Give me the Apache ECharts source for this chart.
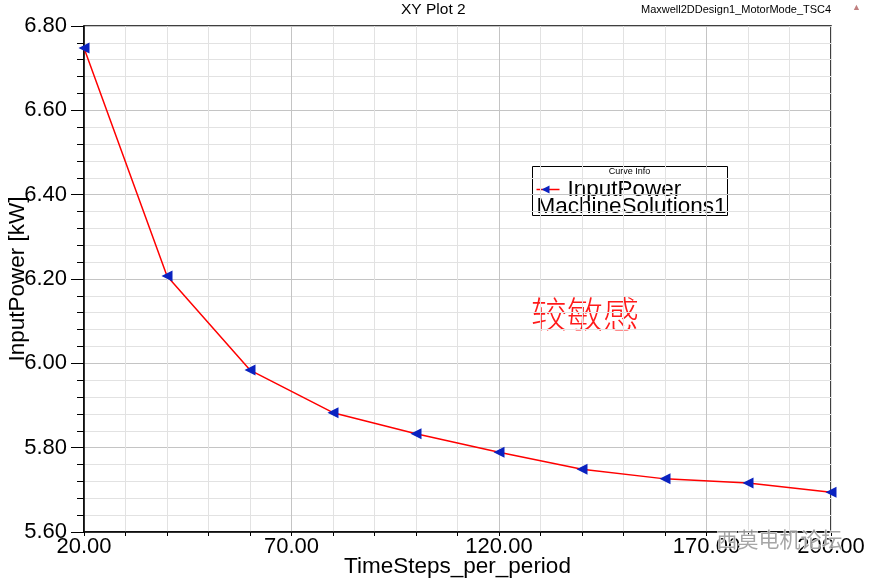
<!DOCTYPE html>
<html><head><meta charset="utf-8">
<script src="https://cdn.jsdelivr.net/npm/echarts@6/dist/echarts.min.js"></script>
<style>html,body{margin:0;padding:0;background:#fff}#c{width:870px;height:582px}</style>
</head><body><div id="c"></div>
<script>
const timeSteps = [20, 40, 60, 80, 100, 120, 140, 160, 180, 200];
const inputPower = [6.748, 6.207, 5.984, 5.883, 5.833, 5.789, 5.749, 5.726, 5.716, 5.694];
const xMajorLabels = [20, 70, 120, 170, 200];
const seriesName = 'InputPower';
const legendSub = 'MachineSolutions1';
const titleText = 'XY Plot 2';
const designText = 'Maxwell2DDesign1_MotorMode_TSC4';
const noteText = '较敏感';
const watermark = '西莫电机论坛';

const chart = echarts.init(document.getElementById('c'), null, {renderer: 'canvas'});
const F = 'Liberation Sans, Arial, sans-serif';
const major = '#c4c4c4', minor = '#e2e2e2';

chart.setOption({
  animation: false,
  backgroundColor: '#fff',
  grid: {left: 84, right: 39, top: 26, bottom: 50, show: true, borderColor: '#000', borderWidth: 1.5,
         containLabel: false, outerBoundsMode: 'none'},
  xAxis: {
    type: 'value', min: 20, max: 200, interval: 10,
    name: 'TimeSteps_per_period', nameLocation: 'middle', nameGap: 23, nameMoveOverlap: false,
    nameTextStyle: {fontFamily: F, fontSize: 22.5, color: '#000'},
    axisLine: {show: true, lineStyle: {color: '#000', width: 1.5}},
    axisTick: {show: true, length: 4, lineStyle: {color: '#000'}},
    axisLabel: {
      fontFamily: F, fontSize: 22, color: '#000', margin: 4, showMaxLabel: true, showMinLabel: true,
      formatter: v => xMajorLabels.includes(Math.round(v)) ? v.toFixed(2) : ''
    },
    splitLine: {show: true, lineStyle: {color: [major, minor, minor, minor, minor], width: 1}}
  },
  yAxis: {
    type: 'value', min: 5.6, max: 6.8, interval: 0.2,
    name: 'InputPower [kW]', nameLocation: 'middle', nameGap: 55, nameMoveOverlap: false,
    nameTextStyle: {fontFamily: F, fontSize: 22.5, color: '#000'},
    axisLine: {show: true, lineStyle: {color: '#000', width: 1.5}},
    axisTick: {show: true, length: 13, lineStyle: {color: '#000'}},
    minorTick: {show: true, splitNumber: 5, length: 7, lineStyle: {color: '#000'}},
    axisLabel: {fontFamily: F, fontSize: 22, color: '#000', margin: 17, formatter: v => v.toFixed(2)},
    splitLine: {show: true, lineStyle: {color: major, width: 1}},
    minorSplitLine: {show: true, lineStyle: {color: minor, width: 1}}
  },
  series: [{
    name: seriesName, type: 'line',
    data: timeSteps.map((x, i) => [x, inputPower[i]]),
    lineStyle: {color: '#ff0000', width: 1.5},
    itemStyle: {color: '#0a22c0'},
    symbol: 'triangle', symbolSize: [11, 11], symbolRotate: 90, showAllSymbol: true,
    clip: true, z: 5
  }],
  graphic: [
    {type: 'text', left: 401, top: 2, style: {text: titleText, font: '15.5px ' + F, fill: '#000'}},
    {type: 'text', left: 641, top: 4, style: {text: designText, font: '11px ' + F, fill: '#000'}},
    {type: 'text', left: 852, top: 3, style: {text: '▲', font: '9px ' + F, fill: '#c08080'}},
    {type: 'group', left: 530, top: 166, children: [
      {type: 'rect', shape: {x: 0, y: 0, width: 195, height: 49}, style: {fill: '#fff', stroke: '#000', lineWidth: 1}},
      {type: 'line', shape: {x1: 0, y1: 12, x2: 195, y2: 12}, style: {stroke: '#000', lineWidth: 1}},
      {type: 'text', x: 97, y: 1, style: {text: 'Curve Info', font: '9px ' + F, fill: '#000', align: 'center'}},
      {type: 'line', shape: {x1: 4, y1: 23, x2: 27, y2: 23}, style: {stroke: '#ff0000', lineWidth: 1.5}},
      {type: 'polygon', shape: {points: [[9, 23], [17, 19], [17, 27]]}, style: {fill: '#0a22c0'}},
      {type: 'text', x: 35, y: 12, style: {text: seriesName, font: '22.5px ' + F, fill: '#000'}},
      {type: 'text', x: 4, y: 29, style: {text: legendSub, font: '22.5px ' + F, fill: '#000'}}
    ]},
    {type: 'text', left: 531, top: 296, style: {text: noteText, font: '300 36px "Noto Sans CJK SC"', fill: '#ff1a1a', shadowColor: 'rgba(0,0,0,0.35)', shadowBlur: 3, shadowOffsetX: 1, shadowOffsetY: 1}},
    {type: 'text', left: 716, top: 528, z: 100, style: {text: watermark, font: '21px "Noto Sans CJK SC"', fill: 'rgba(150,150,150,0.85)', stroke: 'rgba(255,255,255,0.9)', lineWidth: 1}}
  ]
});
</script></body></html>
